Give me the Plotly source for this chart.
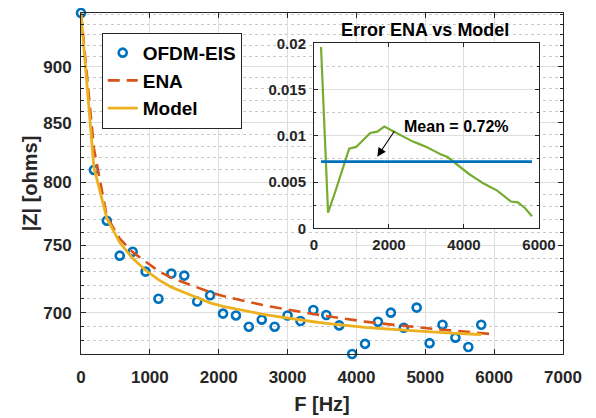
import plotly.graph_objects as go
import math

# ---------------- data ----------------
freq = [0, 187.5, 375, 562.5, 750, 937.5, 1125, 1312.5, 1500, 1687.5, 1875,
        2062.5, 2250, 2437.5, 2625, 2812.5, 3000, 3187.5, 3375, 3562.5, 3750,
        3937.5, 4125, 4312.5, 4500, 4687.5, 4875, 5062.5, 5250, 5437.5, 5625, 5812.5]

ofdm_eis = [951, 810, 769, 742, 745, 730, 710, 728.6, 727, 708, 712.5,
            699.3, 698, 690, 695, 690, 698, 694, 701.9, 698.3, 690.9,
            671, 678, 693.5, 700, 689.3, 703.6, 678.5, 691.4, 682.3, 675.8, 691.4]

model = [951, 812, 771, 752, 740, 731, 724, 718.5, 714.5, 710.5, 707,
         704.5, 702.5, 700.5, 699, 697.5, 696, 694.7, 693.5, 692.3, 691.2,
         690.3, 689.5, 688.8, 688.1, 687.5, 686.9, 686.3, 685.8, 685.3, 684.9, 684.5]

ena_freq = [0, 187.5, 375, 562.5, 750, 937.5, 1125, 1312.5, 1500, 1687.5, 1875,
            2062.5, 2250, 2437.5, 2625, 2812.5, 3000, 3187.5, 3375, 3562.5, 3750,
            3937.5, 4125, 4312.5, 4500, 4687.5, 4875, 5062.5, 5250, 5437.5, 5625, 5812.5, 5975]
ena = [951, 828, 772.3, 755, 744.7, 737.3, 730.4, 725.4, 721.9, 717.9, 714.8,
       712.0, 709.7, 707.4, 705.6, 703.8, 702.1, 700.5, 699.0, 697.6, 696.1,
       694.7, 693.6, 692.5, 691.5, 690.6, 689.7, 688.7, 687.8, 687.2, 686.4, 685.4, 684.7]

err_freq = [187.5, 375, 562.5, 750, 937.5, 1125, 1312.5, 1500, 1687.5, 1875,
            2062.5, 2250, 2437.5, 2625, 2812.5, 3000, 3187.5, 3375, 3562.5, 3750,
            3937.5, 4125, 4312.5, 4500, 4687.5, 4875, 5062.5, 5250, 5437.5, 5625, 5812.5]
err = [0.0196, 0.0017, 0.0039, 0.0063, 0.0086, 0.0088, 0.0096, 0.0103, 0.01045, 0.0110,
       0.0106, 0.0102, 0.0098, 0.0094, 0.0091, 0.0088, 0.0084, 0.0080, 0.0077, 0.0071,
       0.0064, 0.0059, 0.0054, 0.0049, 0.0045, 0.0041, 0.0035, 0.0029, 0.0028, 0.0022, 0.0013]

mean_freq = [187.5, 5812.5]
mean_err = [0.0072, 0.0072]

x_ticks = [0, 1000, 2000, 3000, 4000, 5000, 6000, 7000]
y_ticks = [700, 750, 800, 850, 900]
inset_x_ticks = [0, 2000, 4000, 6000]
inset_y_ticks = [0, 0.005, 0.01, 0.015, 0.02]
inset_y_labels = ["0", "0.005", "0.01", "0.015", "0.02"]

# ---------------- style ----------------
BLUE = "#0072BD"
RED = "#D95319"
YEL = "#EDB120"
GRN = "#77AC30"
AX = "#262626"
GRID = "#DEDEDE"
MGRID = "#C8C8C8"
FONT = "Liberation Sans, Arial, sans-serif"

y_minor = [v for v in range(680, 960, 10) if v not in y_ticks]

fig = go.Figure()

fig.add_trace(go.Scatter(x=freq, y=ofdm_eis, mode="markers", name="OFDM-EIS",
                         marker=dict(symbol="circle-open", size=8, color=BLUE,
                                     line=dict(width=2.6, color=BLUE)),
                         cliponaxis=False, legendgroup="a"))
fig.add_trace(go.Scatter(x=ena_freq, y=ena, mode="lines", name="ENA",
                         line=dict(color=RED, width=2.6, dash="12px,7px"), legendgroup="b"))
fig.add_trace(go.Scatter(x=freq, y=model, mode="lines", name="Model",
                         line=dict(color=YEL, width=2.8), legendgroup="c"))

# inset
fig.add_trace(go.Scatter(x=err_freq, y=err, mode="lines", showlegend=False,
                         line=dict(color=GRN, width=2.2), xaxis="x2", yaxis="y2"))
fig.add_trace(go.Scatter(x=mean_freq, y=mean_err, mode="lines", showlegend=False,
                         line=dict(color=BLUE, width=2.8), xaxis="x2", yaxis="y2"))

tickfont = dict(family=FONT, size=17, color=AX, weight="bold")
inset_tickfont = dict(family=FONT, size=15, color=AX, weight="bold")

fig.update_layout(
    width=588, height=410,
    margin=dict(l=73, r=33, t=5, b=64, autoexpand=False),
    paper_bgcolor="white", plot_bgcolor="white",
    font=dict(family=FONT, color=AX),
    xaxis=dict(domain=[0, 1], range=[0, 7000], tickmode="array", tickvals=x_ticks,
               ticktext=[str(v) for v in x_ticks], tickfont=tickfont, automargin=False,
               ticks="inside", ticklen=5, tickcolor=AX, showline=True, linecolor=AX,
               linewidth=1, mirror="ticks", showgrid=True, gridcolor=GRID, gridwidth=1,
               zeroline=False, ticklabelstandoff=8,
               title=dict(text="F [Hz]", font=dict(family=FONT, size=20, color=AX, weight="bold"),
                          standoff=10)),
    yaxis=dict(domain=[0, 1], type="log", range=[math.log10(671), math.log10(951)],
               tickmode="array", tickvals=y_ticks, ticktext=[str(v) for v in y_ticks],
               tickfont=tickfont, ticks="inside", ticklen=5, tickcolor=AX, automargin=False,
               showline=True, linecolor=AX, linewidth=1, mirror="ticks",
               showgrid=True, gridcolor=GRID, gridwidth=1, zeroline=False,
               ticklabelstandoff=5,
               minor=dict(tickmode="array", tickvals=y_minor, ticks="inside", ticklen=3,
                          tickcolor=AX, showgrid=True, gridcolor=MGRID, griddash="dot",
                          gridwidth=1),
               title=dict(text="|Z| [ohms]", font=dict(family=FONT, size=20, color=AX, weight="bold"),
                          standoff=0)),
    xaxis2=dict(domain=[0.4834, 0.9502], anchor="y2", range=[0, 6000], tickmode="array",
                tickvals=inset_x_ticks, ticktext=[str(v) for v in inset_x_ticks],
                tickfont=inset_tickfont, ticks="inside", ticklen=4, tickcolor=AX,
                showline=True, linecolor=AX, linewidth=1, mirror="ticks", automargin=False,
                showgrid=True, gridcolor=GRID, zeroline=False, ticklabelstandoff=3),
    yaxis2=dict(domain=[0.3686, 0.9111], anchor="x2", range=[0, 0.02], tickmode="array",
                tickvals=inset_y_ticks, ticktext=inset_y_labels, tickfont=inset_tickfont,
                ticks="inside", ticklen=4, tickcolor=AX, showline=True, linecolor=AX,
                linewidth=1, mirror="ticks", showgrid=True, gridcolor=GRID, zeroline=False,
                automargin=False, ticklabelstandoff=4,
                minor=dict(dtick=0.0025, tick0=0, ticks="inside", ticklen=2, tickcolor=AX,
                           showgrid=True, gridcolor=MGRID, griddash="dot")),
    legend=dict(x=0.043, y=0.942, xanchor="left", yanchor="top", bgcolor="white",
                bordercolor=AX, borderwidth=1, traceorder="grouped", tracegroupgap=0,
                font=dict(family=FONT, size=19, color="black", weight="bold")),
    showlegend=True,
)

fig.add_annotation(text="<b>Error ENA vs Model</b>", xref="paper", yref="paper",
                   x=0.7137, y=0.951, xanchor="center", yanchor="middle", showarrow=False,
                   font=dict(family=FONT, size=18, color="black"))
fig.add_annotation(text="<b>Mean = 0.72%</b>", xref="x2", yref="y2", x=3805, y=0.01098,
                   xanchor="center", yanchor="middle", showarrow=False,
                   font=dict(family=FONT, size=16, color="black"))
fig.add_annotation(text="", xref="x2", yref="y2", x=1688, y=0.00774, ax=18, ay=-27,
                   showarrow=True, arrowhead=2, arrowsize=1.6, arrowwidth=1.1,
                   arrowcolor="black")

fig.write_html("out.html")
